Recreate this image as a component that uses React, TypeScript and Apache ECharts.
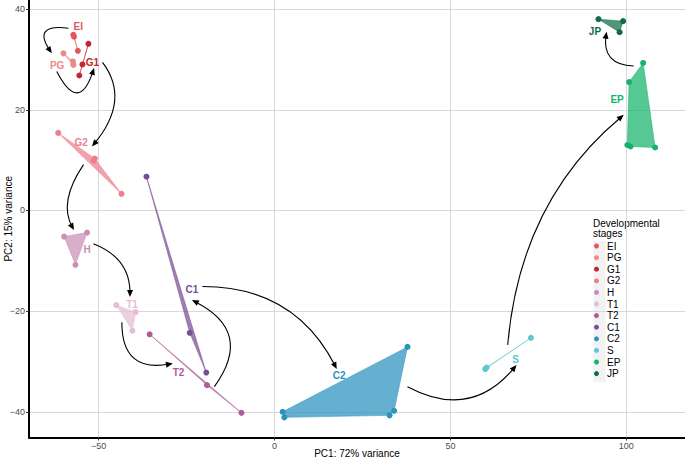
import React, { useEffect, useRef } from "react";
import * as echarts from "echarts";

// ---------- data ----------
const GROUPS = ["EI", "PG", "G1", "G2", "H", "T1", "T2", "C1", "C2", "S", "EP", "JP"];
const COLORS = [
  "#E05858", "#EE8A88", "#C3262E", "#EE7D8E", "#C98FB5", "#E6BED3",
  "#B05C99", "#7A4E93", "#2A92BE", "#5DC7D1", "#14B36B", "#106B46",
];

const PTS_EI = [[-57.2, 34.9], [-57.0, 34.5], [-55.9, 31.7]];
const PTS_PG = [[-60.0, 31.2], [-57.3, 29.6], [-57.2, 28.9]];
const PTS_G1 = [[-52.9, 33.1], [-54.6, 29.0], [-55.5, 26.8]];
const PTS_G2 = [[-61.5, 15.4], [-51.4, 9.9], [-51.1, 10.3], [-43.5, 3.3]];
const PTS_H = [[-59.8, -5.2], [-53.3, -4.4], [-56.6, -10.8]];
const PTS_T1 = [[-45.0, -18.8], [-39.5, -20.2], [-40.4, -23.9]];
const PTS_T2 = [[-35.5, -24.6], [-19.2, -34.7], [-9.4, -40.2]];
const PTS_C1 = [[-36.4, 6.7], [-24.1, -24.3], [-19.4, -32.2]];
const PTS_C2 = [[2.3, -40.0], [2.8, -41.1], [37.8, -27.1], [34.0, -39.8], [32.7, -40.7]];
const PTS_S = [[59.9, -31.5], [60.3, -31.2], [72.9, -25.3]];
const PTS_EP = [[104.8, 29.3], [100.8, 25.5], [100.3, 13.0], [101.2, 12.7], [108.2, 12.5]];
const PTS_JP = [[92.1, 38.0], [99.1, 37.6], [98.1, 35.4]];
const POINTS = [PTS_EI, PTS_PG, PTS_G1, PTS_G2, PTS_H, PTS_T1, PTS_T2, PTS_C1, PTS_C2, PTS_S, PTS_EP, PTS_JP];

// group label positions (data coords)
const LABEL_POS = [
  [-55.8, 36.6], [-61.8, 28.8], [-51.8, 29.4], [-55.0, 13.5], [-53.3, -7.7], [-40.5, -18.6],
  [-27.3, -32.1], [-23.5, -15.8], [18.4, -32.8], [68.5, -29.6], [97.4, 22.0], [91.1, 35.5],
];

// arrows: start x,y ; mid-curve x,y ; end x,y (data coords)
const ARROWS = [
  [-58.6, 36.2, -65.0, 35.4, -63.3, 31.2],
  [-61.9, 27.6, -56.1, 23.5, -51.3, 28.3],
  [-48.9, 29.4, -45.6, 21.5, -51.9, 12.7],
  [-54.3, 9.1, -58.6, 2.1, -57.0, -3.9],
  [-51.5, -6.6, -43.6, -10.7, -41.1, -17.2],
  [-43.4, -22.2, -39.8, -29.3, -28.9, -30.4],
  [-17.1, -35.0, -13.0, -25.2, -23.5, -17.8],
  [-20.5, -15.1, 2.2, -19.2, 17.7, -31.5],
  [37.8, -35.0, 54.6, -37.3, 68.8, -30.7],
  [66.3, -26.7, 76.3, -1.0, 99.3, 19.0],
  [102.1, 28.7, 95.6, 30.5, 94.4, 35.5],
];

const X_TICKS = [-50, 0, 50, 100];
const Y_TICKS = [-40, -20, 0, 20, 40];

const FONT = "'Liberation Sans', Arial, Helvetica, sans-serif";

function hull(pts: number[][]): number[][] {
  const p = pts.slice().sort((a, b) => a[0] - b[0] || a[1] - b[1]);
  if (p.length < 3) return p;
  const cross = (o: number[], a: number[], b: number[]) =>
    (a[0] - o[0]) * (b[1] - o[1]) - (a[1] - o[1]) * (b[0] - o[0]);
  const lower: number[][] = [];
  for (const q of p) {
    while (lower.length >= 2 && cross(lower[lower.length - 2], lower[lower.length - 1], q) <= 0) lower.pop();
    lower.push(q);
  }
  const upper: number[][] = [];
  for (const q of p.slice().reverse()) {
    while (upper.length >= 2 && cross(upper[upper.length - 2], upper[upper.length - 1], q) <= 0) upper.pop();
    upper.push(q);
  }
  upper.pop();
  lower.pop();
  return lower.concat(upper);
}

const fmt = (v: number) => String(v).replace("-", "\u2212");

export default function App() {
  const ref = useRef<HTMLDivElement>(null);
  useEffect(() => {
    document.body.style.margin = "0";
    const chart = echarts.init(ref.current!, null, { renderer: "svg" });

    const scatterSeries = GROUPS.map((g, i) => ({
      type: "scatter",
      name: g,
      data: POINTS[i],
      symbolSize: 6,
      itemStyle: { color: COLORS[i], opacity: 1 },
      z: 4,
      silent: true,
    }));

    const option: any = {
      animation: false,
      grid: { left: 29, right: 0, top: 0, bottom: 21.5, containLabel: false, outerBoundsMode: "none" },
      xAxis: {
        type: "value",
        min: -69.8,
        max: 116.7,
        name: "PC1: 72% variance",
        nameLocation: "middle",
        nameGap: 11,
        nameMoveOverlap: false,
        nameTextStyle: { fontSize: 10, color: "#000", fontFamily: FONT },
        axisLine: { show: true, onZero: false, lineStyle: { color: "#000", width: 2 } },
        axisTick: { show: true, length: 3, customValues: X_TICKS, lineStyle: { color: "#333" } },
        axisLabel: { customValues: X_TICKS, formatter: fmt, color: "#4D4D4D", fontSize: 9, margin: 4, fontFamily: FONT },
        splitLine: { show: true, lineStyle: { color: "#D9D9D9", width: 1 } },
      },
      yAxis: {
        type: "value",
        min: -45.1,
        max: 41.8,
        name: "PC2: 15% variance",
        nameLocation: "middle",
        nameGap: 16,
        nameMoveOverlap: false,
        nameTextStyle: { fontSize: 10, color: "#000", fontFamily: FONT },
        axisLine: { show: true, onZero: false, lineStyle: { color: "#000", width: 2 } },
        axisTick: { show: true, length: 3, customValues: Y_TICKS, lineStyle: { color: "#333" } },
        axisLabel: { customValues: Y_TICKS, formatter: fmt, color: "#4D4D4D", fontSize: 9, margin: 4, fontFamily: FONT },
        splitLine: { show: true, lineStyle: { color: "#D9D9D9", width: 1 } },
      },
      legend: {
        data: GROUPS,
        orient: "vertical",
        left: 594,
        top: 241,
        padding: 0,
        itemWidth: 11,
        itemHeight: 5,
        itemGap: 1.6,
        icon: "circle",
        textStyle: { fontSize: 10, color: "#000", fontFamily: FONT },
        selectedMode: false,
      },
      graphic: [
        { type: "rect", left: 593.5, top: 241, z: 0, shape: { width: 12, height: 141 }, style: { fill: "#F2F2F2" } },
        {
          type: "text",
          left: 593,
          top: 218,
          style: { text: "Developmental\nstages", font: `10px ${FONT}`, fill: "#000", lineHeight: 10 },
        },
      ],
      series: [
        {
          type: "custom",
          name: "hulls",
          silent: true,
          z: 2,
          data: GROUPS.map((g, i) => [POINTS[i][0][0], POINTS[i][0][1], i]),
          renderItem: (params: any, api: any) => {
            const gi = api.value(2);
            const px = POINTS[gi].map((p) => api.coord(p));
            const h = hull(px);
            return {
              type: "polygon",
              shape: { points: h },
              style: {
                fill: echarts.color.modifyAlpha(COLORS[gi], 0.72),
                stroke: echarts.color.modifyAlpha(COLORS[gi], 0.85),
                lineWidth: 0.6,
                lineJoin: "round",
              },
            };
          },
        },
        ...scatterSeries,
        {
          type: "custom",
          name: "arrows",
          silent: true,
          z: 5,
          data: ARROWS,
          encode: { x: [0, 2, 4], y: [1, 3, 5] },
          renderItem: (params: any, api: any) => {
            const s = api.coord([api.value(0), api.value(1)]);
            const v = api.coord([api.value(2), api.value(3)]);
            const e = api.coord([api.value(4), api.value(5)]);
            const c = [2 * v[0] - (s[0] + e[0]) / 2, 2 * v[1] - (s[1] + e[1]) / 2];
            const dx = e[0] - c[0];
            const dy = e[1] - c[1];
            const L = Math.hypot(dx, dy) || 1;
            const ux = dx / L;
            const uy = dy / L;
            const hl = 7;
            const hw = 3;
            const b = [e[0] - ux * hl, e[1] - uy * hl];
            const p1 = [b[0] - uy * hw, b[1] + ux * hw];
            const p2 = [b[0] + uy * hw, b[1] - ux * hw];
            return {
              type: "group",
              children: [
                {
                  type: "bezierCurve",
                  shape: { x1: s[0], y1: s[1], x2: e[0] - ux * 3, y2: e[1] - uy * 3, cpx1: c[0], cpy1: c[1] },
                  style: { stroke: "#000", lineWidth: 1.1, fill: "none" },
                },
                { type: "polygon", shape: { points: [e, p1, p2] }, style: { fill: "#000" } },
              ],
            };
          },
        },
        {
          type: "custom",
          name: "labels",
          silent: true,
          z: 6,
          data: LABEL_POS.map((p, i) => [p[0], p[1], i]),
          renderItem: (params: any, api: any) => {
            const gi = api.value(2);
            const p = api.coord([api.value(0), api.value(1)]);
            return {
              type: "text",
              x: p[0],
              y: p[1],
              style: {
                text: GROUPS[gi],
                fill: COLORS[gi],
                font: `bold 10px ${FONT}`,
                align: "center",
                verticalAlign: "middle",
              },
            };
          },
        },
      ],
    };
    chart.setOption(option);
    return () => chart.dispose();
  }, []);
  return <div ref={ref} style={{ width: 685, height: 459 }} />;
}
